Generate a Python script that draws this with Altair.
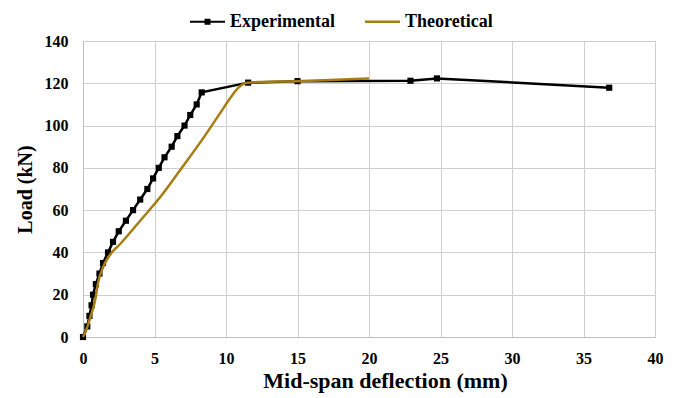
import altair as alt
import pandas as pd

# ---- data ----
exp_defl = [0, 0.3, 0.45, 0.6, 0.7, 0.9, 1.15, 1.4, 1.75, 2.1, 2.5, 3.0, 3.5, 4.0,
            4.5, 4.9, 5.3, 5.7, 6.2, 6.6, 7.1, 7.5, 7.95, 8.3, 11.55, 15.0, 22.9, 24.75, 36.8]
exp_load = [0, 5, 10, 15, 20, 25, 30, 35, 40, 45, 50, 55, 60, 65,
            70, 75, 80, 85, 90, 95, 100, 105, 110, 115.7, 120.3, 121, 121.2, 122.3, 117.9]

theo_defl = [0, 0.15, 0.5, 0.85, 1.05, 1.4, 1.9, 2.6, 4.0, 5.5, 6.8, 8.3, 9.6,
             10.3, 10.8, 11.45, 15.0, 20.0]
theo_load = [0, 2, 9, 17.5, 25.5, 33, 39, 44, 55, 67, 79, 93, 106,
             113, 117.5, 120.3, 121, 122.3]

series_names = ["Experimental", "Theoretical"]
series_colors = ["#000000", "#A97C12"]
x_ticks = [0, 5, 10, 15, 20, 25, 30, 35, 40]
y_ticks = [0, 20, 40, 60, 80, 100, 120, 140]

exp_df = pd.DataFrame({"defl": exp_defl, "load": exp_load, "series": series_names[0]})
theo_df = pd.DataFrame({"defl": theo_defl, "load": theo_load, "series": series_names[1]})
all_df = pd.concat([exp_df, theo_df], ignore_index=True)

FONT = "Liberation Serif"
GRID = "#CFCFCF"

x_enc = alt.X(
    "defl:Q",
    scale=alt.Scale(domain=[0, 40], nice=False),
    axis=alt.Axis(
        values=x_ticks, title="Mid-span deflection (mm)", ticks=False,
        labelFont=FONT, labelFontSize=16, labelFontWeight="bold", labelColor="black",
        labelPadding=13, titleFont=FONT, titleFontSize=22, titleFontWeight="bold",
        titleColor="black", titlePadding=4, titleX=302,
        domainColor="#BFBFBF", gridColor=GRID, labelFlush=False,
    ),
)
y_enc = alt.Y(
    "load:Q",
    scale=alt.Scale(domain=[0, 140], nice=False),
    axis=alt.Axis(
        values=y_ticks, title="Load (kN)", ticks=False,
        labelFont=FONT, labelFontSize=16, labelFontWeight="bold", labelColor="black",
        labelPadding=15, titleFont=FONT, titleFontSize=20, titleFontWeight="bold",
        titleColor="black", titlePadding=9,
        domainColor="#BFBFBF", gridColor=GRID,
    ),
)

exp_line = alt.Chart(exp_df).mark_line(color=series_colors[0], strokeWidth=2.5).encode(x=x_enc, y=y_enc)
exp_pts = alt.Chart(exp_df).mark_point(
    shape="square", filled=True, color=series_colors[0], size=38, opacity=1
).encode(x=x_enc, y=y_enc)
theo_line = alt.Chart(theo_df).mark_line(
    color=series_colors[1], strokeWidth=2.5, interpolate="monotone"
).encode(x=x_enc, y=y_enc)

path_exp = "M-1,-0.06H1V0.06H-1Z M-0.17,-0.17H0.17V0.17H-0.17Z"
path_theo = "M-1,-0.07H1V0.07H-1Z"

leg = alt.Legend(
    title=None, orient="none", legendX=107, legendY=-37, direction="horizontal",
    labelFont=FONT, labelFontSize=18, labelFontWeight="bold", labelColor="black",
    symbolSize=1225, symbolStrokeWidth=0, symbolOpacity=1, labelOffset=5,
    columnPadding=30,
)
legend_layer = alt.Chart(all_df).mark_point(filled=True, opacity=0).encode(
    x=x_enc, y=y_enc,
    shape=alt.Shape("series:N", scale=alt.Scale(domain=series_names, range=[path_exp, path_theo]), legend=leg),
    fill=alt.Fill("series:N", scale=alt.Scale(domain=series_names, range=series_colors), legend=leg),
)

chart = alt.layer(exp_line, exp_pts, theo_line, legend_layer).properties(
    width=572, height=296,
    autosize=alt.AutoSizeParams(type="none"),
    padding={"left": 83, "top": 41, "right": 21, "bottom": 61},
).configure_view(stroke=None).configure(background="white")

chart.save("out.html", embed_options={"renderer": "svg", "actions": False})
